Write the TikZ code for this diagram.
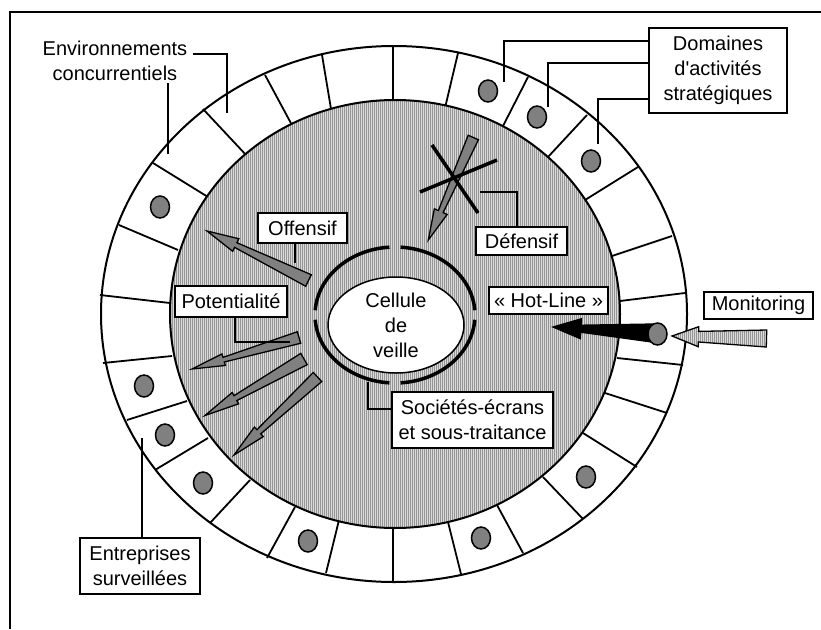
\documentclass[tikz,border=0pt]{standalone}
\usepackage{fontspec}
\setmainfont{Liberation Sans}
\usetikzlibrary{calc,shapes.geometric}

\definecolor{dotgray}{HTML}{808080}
\definecolor{stripelight}{HTML}{DADADA}
\definecolor{stripedark}{HTML}{959595}

\tikzset{
  frameline/.style={line width=2.5pt},
  rim/.style={line width=2pt},
  spoke/.style={line width=1.8pt},
  txt/.style={inner sep=0pt, align=center, font=\fontsize{20}{25}\selectfont},
  lbl/.style={txt, draw, fill=white, line width=1.7pt},
  lead/.style={line width=1.6pt},
  dot/.style={draw, fill=dotgray, line width=1.5pt},
  grayarrow/.style={draw, fill=dotgray, line width=1.3pt, line join=miter},
  blackarrow/.style={draw, fill=black, line width=1.3pt, line join=miter},
  ringarc/.style={line width=3.5pt},
  cross/.style={line width=3.5pt}
}

% wide tapered arrow: style, tail, tip, tail half-width, neck half-width,
% barb half-width, head length
\newcommand{\widearrow}[7]{%
  \coordinate (wa-t) at #2;
  \coordinate (wa-h) at #3;
  \coordinate (wa-n) at ($(wa-h)!#7pt!(wa-t)$);
  \path[#1] ($(wa-t)!#4pt!90:(wa-h)$) -- ($(wa-n)!#5pt!90:(wa-h)$)
    -- ($(wa-n)!#6pt!90:(wa-h)$) -- (wa-h) -- ($(wa-n)!#6pt!-90:(wa-h)$)
    -- ($(wa-n)!#5pt!-90:(wa-h)$) -- ($(wa-t)!#4pt!-90:(wa-h)$) -- cycle;}

\begin{document}
\begin{tikzpicture}[x=1pt,y=-1pt]
\useasboundingbox (0,0) rectangle (821,629);

% open frame
\draw[frameline] (10,629) -- (10,12) -- (821,12);

% outer ring of cells
\fill[white] (394,314) ellipse [x radius=293, y radius=268];
\foreach \ox/\oy/\ix/\iy in {153/163/208/197, 119/225/178/250, 100/295/170/303,
  103/363/172/356, 127/420/187/401, 155/470/208/438, 210/523/250/480,
  267/558/295/507, 326/573/339/520, 393/582/393/528, 461/574/448/522,
  523/553/497/505, 583/519/543/477, 637/467/583/433, 667/413/605/393,
  683/365/617/358, 685/293/620/301, 672/236/612/256, 638/167/585/200,
  587/115/548/157, 528/77/502/128, 458/53/445/108, 393/46/393/101,
  322/55/331/109, 265/75/293/127, 203/109/247/156}
  \draw[spoke] (\ox,\oy) -- (\ix,\iy);
\draw[rim] (394,314) ellipse [x radius=293, y radius=268];

% striped inner field
\begin{scope}
  \clip (395,314) ellipse [x radius=225, y radius=214];
  \fill[stripelight] (165,95) rectangle (625,535);
  \foreach \sx in {166,168,...,624}
    \draw[stripedark, line width=0.9pt] (\sx,95) -- (\sx,535);
\end{scope}
\draw[rim] (395,314) ellipse [x radius=225, y radius=214];

% dots in the cells
\foreach \px/\py in {488/91, 537/117, 591/161, 160/207, 144/386, 165/435,
  203/483, 308/541, 481/538, 586/477}
  \draw[dot] (\px,\py) ellipse [x radius=9.5, y radius=11];

% central cell and its broken ring
\foreach \a in {0,90,180,270}
  \draw[ringarc] (395,315) ++({\a+4}:80 and 68)
    arc[start angle=\a+4, end angle=\a+86, x radius=80, y radius=68];
\node[txt, ellipse, draw, fill=white, line width=1.5pt, minimum width=136pt,
  minimum height=96pt] (cell) at (396,325) {Cellule\\de\\veille};

% offensive and potential arrows
\widearrow{grayarrow}{(308.5,280.5)}{(207,231)}{6.4}{2.6}{7}{32}
\widearrow{grayarrow}{(299,337.5)}{(192,369)}{6}{2.4}{6}{33}
\widearrow{grayarrow}{(304,359)}{(205,415.5)}{6.5}{2.8}{6.5}{35}
\widearrow{grayarrow}{(317.5,377)}{(234,455)}{6.2}{2.8}{6.5}{34}

% defensive arrow crossed out
\widearrow{grayarrow}{(473.3,137.5)}{(428.3,240)}{5.6}{2.6}{7}{31}
\coordinate (xa1) at (432,145);
\coordinate (xa2) at (478,213);
\coordinate (xb1) at (420,192);
\coordinate (xb2) at (497,160);
\draw[cross] (xa1) -- (xa2);
\draw[cross] (xb1) -- (xb2);

% hot-line and monitoring arrows
\widearrow{blackarrow}{(652,333)}{(553,327)}{9}{3.5}{10}{28}
\widearrow{draw, line width=1.3pt, line join=miter, path picture={
    \fill[stripelight] (660,315) rectangle (780,360);
    \foreach \sx in {660,662,...,780}
      \draw[stripedark, line width=0.9pt] (\sx,315) -- (\sx,360);}}
  {(766.5,338.5)}{(672,336)}{8.5}{5.3}{10}{26.5}
\draw[dot] (657.5,334) ellipse [x radius=9.5, y radius=11];

% labels
\node[lbl, minimum width=89pt, minimum height=30pt] (offensif) at (302.5,228) {Offensif};
\node[lbl, minimum width=112pt, minimum height=31pt] (potent) at (231,301.5) {Potentialité};
\node[lbl, minimum width=91pt, minimum height=28pt] (defensif) at (521.5,241) {Défensif};
\node[lbl, minimum width=119pt, minimum height=27pt] (hotline) at (548.5,300.5) {« Hot-Line »};
\node[lbl, minimum width=109pt, minimum height=27pt] (monitor) at (758.5,305.5) {Monitoring};
\node[lbl, minimum width=138pt, minimum height=85pt] (das) at (718,70.5)
  {Domaines\\d\textquotesingle activités\\stratégiques};
\node[lbl, minimum width=161pt, minimum height=56pt] (ecrans) at (472.5,420)
  {Sociétés-écrans\\et sous-traitance};
\node[lbl, minimum width=120pt, minimum height=56pt] (entr) at (140,566)
  {Entreprises\\surveillées};
\node[txt] (env) at (115,61) {Environnements\\concurrentiels};

% leader lines
\coordinate (envA) at (193,54);
\coordinate (envAend) at (227,113);
\coordinate (envB) at (168,83);
\coordinate (envBend) at (168,154);
\draw[lead] (envA) -| (envAend);
\draw[lead] (envB) -- (envBend);

\coordinate (das1) at (504,82);
\coordinate (das2) at (548,107);
\coordinate (das3) at (598,144);
\draw[lead] (das.west |- 0,41) -| (das1);
\draw[lead] (das.west |- 0,63) -| (das2);
\draw[lead] (das.west |- 0,99) -| (das3);

\coordinate (offend) at (295,263);
\draw[lead] (offensif.south -| offend) -- (offend);

\coordinate (potend) at (290,342);
\draw[lead] (potent.south -| 235,0) |- (potend);

\coordinate (defend) at (480,192);
\draw[lead] (defensif.north -| 517,0) |- (defend);

\coordinate (ecrend) at (368,382);
\draw[lead] (ecrans.west |- 0,409) -| (ecrend);

\coordinate (entrend) at (142,438);
\draw[lead] (entr.north -| entrend) -- (entrend);
\end{tikzpicture}
\end{document}
